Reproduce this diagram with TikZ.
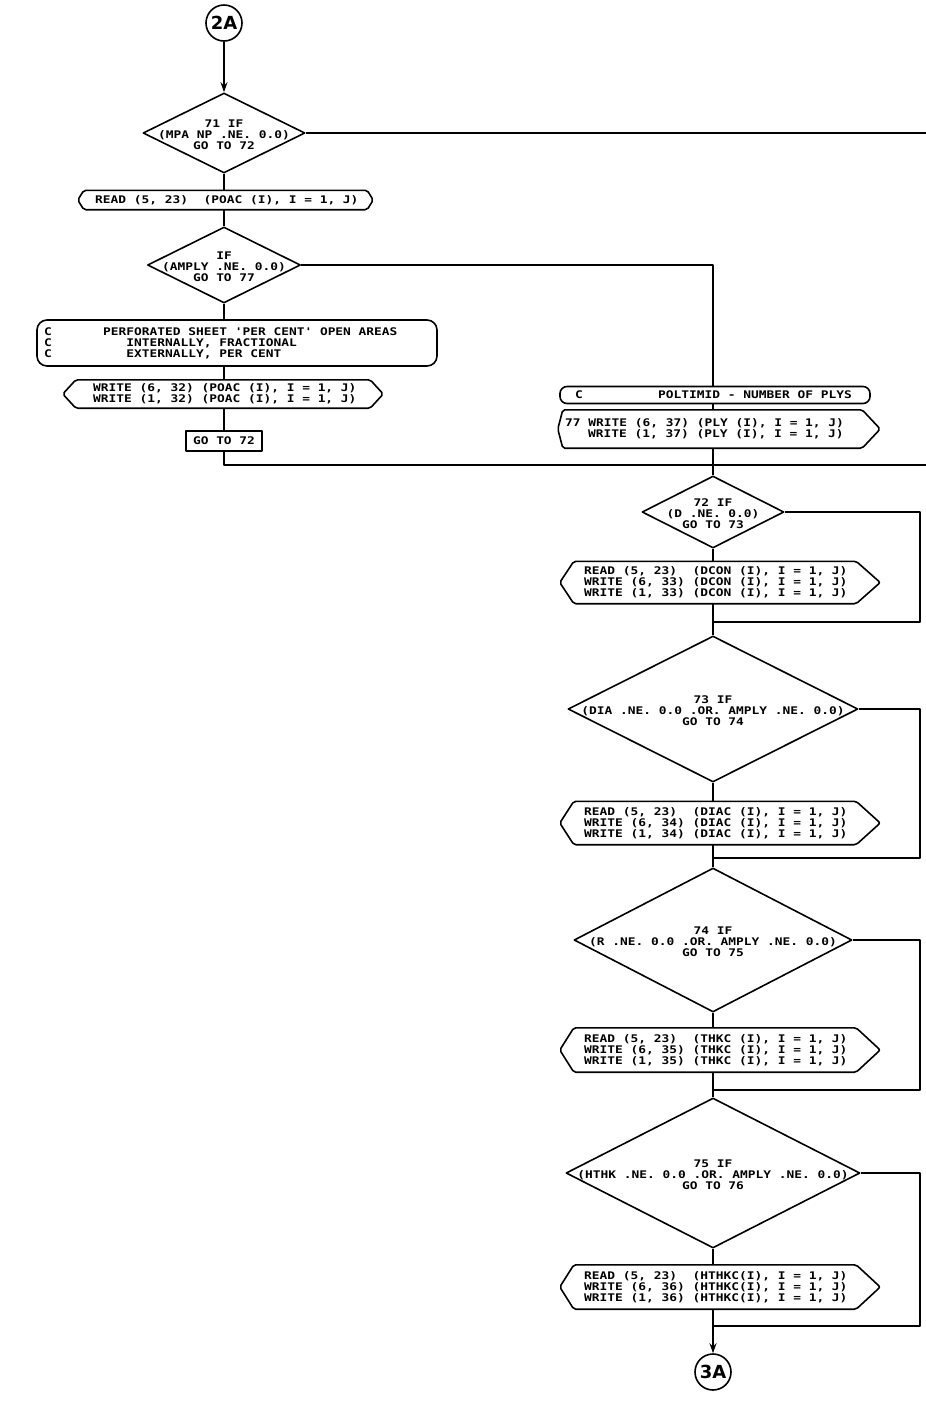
\documentclass[tikz,border=0pt]{standalone}
\usepackage{fontspec}
\newfontfamily\plotfont[FakeStretch=1.225]{DejaVu Sans Mono}
\newfontfamily\circfont{DejaVu Sans}
\usetikzlibrary{shapes.geometric,calc,arrows.meta}
\newcommand\ioshape[3]{%
  \draw[ln,rounded corners=2pt] ($(#1.north west)+(#2,0)$) -- ($(#1.north east)+(-#3,0)$) -- (#1.east)
    -- ($(#1.south east)+(-#3,0)$) -- ($(#1.south west)+(#2,0)$) -- (#1.west) -- cycle;}
\tikzset{
  ln/.style={line width=1.6pt,line join=round},
  dia/.style 2 args={diamond,draw,ln,inner sep=0pt,minimum width=#1,minimum height=#2},
  hold/.style 2 args={rectangle,inner sep=0pt,minimum width=#1,minimum height=#2},
  txt/.style={font=\plotfont\bfseries\fontsize{10.5}{11}\selectfont,align=left,inner sep=0pt},
  ctxt/.style={txt,align=center},
  conn/.style={circle,draw,ln,minimum size=36pt,inner sep=0pt,font=\circfont\bfseries\fontsize{18}{18}\selectfont},
  arr/.style={ln,-{Stealth[length=10pt,width=7pt]}},
}
\begin{document}
\begin{tikzpicture}[x=1pt,y=-1pt]
\useasboundingbox (0,0) rectangle (926,1409);
\fill[white] (0,0) rectangle (926,1409);
% ---------- left column ----------
\node[conn] (c2a) at (224,23) {2A};
\node[dia={162pt}{80pt}] (d71) at (224,133) {};
\node[ctxt] (t71) at ($(d71.center)+(0,2)$) {71 IF\\(MPA NP .NE. 0.0)\\GO TO 72};
\coordinate (off1) at (926,133);

\node[hold={295pt}{19pt}] (r1) at (225.5,200) {};
\ioshape{r1}{6}{6}
\node[txt,anchor=west] (tr1) at (95,200) {READ (5, 23)~~(POAC (I), I = 1, J)};

\node[dia={153pt}{76pt}] (d2) at (224,265) {};
\node[ctxt] (t2) at ($(d2.center)+(0,2)$) {IF\\(AMPLY .NE. 0.0)\\GO TO 77};

\node[hold={400pt}{46pt},draw,ln,rounded corners=10pt] (perf) at (237,343) {};
\node[txt,anchor=west] (tpc) at (44,343) {C\\C\\C};
\node[txt,anchor=west] (tpf) at (103,343) {PERFORATED SHEET 'PER CENT' OPEN AREAS\\~~~INTERNALLY, FRACTIONAL\\~~~EXTERNALLY, PER CENT};

\node[hold={320pt}{28pt}] (w32) at (223,394) {};
\ioshape{w32}{13}{13}
\node[txt,anchor=west] (tw32) at (93,394) {WRITE (6, 32) (POAC (I), I = 1, J)\\WRITE (1, 32) (POAC (I), I = 1, J)};

\node[draw,ln,txt,align=center,minimum width=76pt,minimum height=20pt] (g72) at (224,441) {GO TO 72};
\coordinate (off2) at (926,465);

% ---------- right column ----------
\node[hold={310pt}{17pt},draw,ln,rounded corners=7pt] (cpol) at (715,395) {};
\node[txt,anchor=west] (tcp1) at (575,395) {C};
\node[txt,anchor=west] (tcp2) at (658,395) {POLTIMID - NUMBER OF PLYS};

\node[hold={322pt}{38pt}] (w77) at (719,429) {};
\ioshape{w77}{5}{18}
\node[txt,anchor=west] (tw77a) at (565,423) {77 WRITE (6, 37) (PLY (I), I = 1, J)};
\node[txt,anchor=west] (tw77b) at (588,434.5) {WRITE (1, 37) (PLY (I), I = 1, J)};

\node[dia={142pt}{72pt}] (d72) at (713,512) {};
\node[ctxt] (t72) at ($(d72.center)+(0,2)$) {72 IF\\(D .NE. 0.0)\\GO TO 73};

\node[hold={320pt}{42pt}] (r33) at (720,582.5) {};
\ioshape{r33}{14}{24}
\node[txt,anchor=west] (tr33) at (584,582.5) {READ (5, 23)~~(DCON (I), I = 1, J)\\WRITE (6, 33) (DCON (I), I = 1, J)\\WRITE (1, 33) (DCON (I), I = 1, J)};
\coordinate (j72) at (713,622);
\coordinate (k72) at (920,622);

\node[dia={290pt}{146pt}] (d73) at (713,709) {};
\node[ctxt] (t73) at ($(d73.center)+(0,2)$) {73 IF\\(DIA .NE. 0.0 .OR. AMPLY .NE. 0.0)\\GO TO 74};

\node[hold={320pt}{43pt}] (r34) at (720,823) {};
\ioshape{r34}{14}{24}
\node[txt,anchor=west] (tr34) at (584,823) {READ (5, 23)~~(DIAC (I), I = 1, J)\\WRITE (6, 34) (DIAC (I), I = 1, J)\\WRITE (1, 34) (DIAC (I), I = 1, J)};
\coordinate (j73) at (713,858);
\coordinate (k73) at (920,858);

\node[dia={278pt}{144pt}] (d74) at (713,940) {};
\node[ctxt] (t74) at ($(d74.center)+(0,2)$) {74 IF\\(R .NE. 0.0 .OR. AMPLY .NE. 0.0)\\GO TO 75};

\node[hold={320pt}{44pt}] (r35) at (720,1050) {};
\ioshape{r35}{14}{24}
\node[txt,anchor=west] (tr35) at (584,1050) {READ (5, 23)~~(THKC (I), I = 1, J)\\WRITE (6, 35) (THKC (I), I = 1, J)\\WRITE (1, 35) (THKC (I), I = 1, J)};
\coordinate (j74) at (713,1090);
\coordinate (k74) at (920,1090);

\node[dia={294pt}{150pt}] (d75) at (713,1173) {};
\node[ctxt] (t75) at ($(d75.center)+(0,2)$) {75 IF\\(HTHK .NE. 0.0 .OR. AMPLY .NE. 0.0)\\GO TO 76};

\node[hold={320pt}{44pt}] (r36) at (720,1287) {};
\ioshape{r36}{14}{24}
\node[txt,anchor=west] (tr36) at (584,1287) {READ (5, 23)~~(HTHKC(I), I = 1, J)\\WRITE (6, 36) (HTHKC(I), I = 1, J)\\WRITE (1, 36) (HTHKC(I), I = 1, J)};
\coordinate (j75) at (713,1326);
\coordinate (k75) at (920,1326);

\node[conn] (c3a) at (713,1372) {3A};

% ---------- connectors ----------
\draw[arr] (c2a) -- (d71.north);
\draw[ln] (d71.east) -- (off1);
\draw[ln] (d71.south) -- (r1.north -| d71.south);
\draw[ln] (r1.south -| d71.south) -- (d2.north);
\draw[ln] (d2.south) -- (perf.north -| d2.south);
\draw[ln] (perf.south -| d2.south) -- (w32.north -| d2.south);
\draw[ln] (w32.south -| d2.south) -- (g72.north);
\draw[ln] (g72.south) |- (off2);
\draw[ln] (d2.east) -| (cpol.north -| d72.north);
\draw[ln] (cpol.south -| d72.north) -- (w77.north -| d72.north);
\draw[ln] (w77.south -| d72.north) -- (d72.north);
\draw[ln] (d72.south) -- (r33.north -| d72.south);
\draw[ln] (r33.south -| d72.south) -- (d73.north);
\draw[ln] (d72.east) -| (k72) -- (j72);
\draw[ln] (d73.south) -- (r34.north -| d73.south);
\draw[ln] (r34.south -| d73.south) -- (d74.north);
\draw[ln] (d73.east) -| (k73) -- (j73);
\draw[ln] (d74.south) -- (r35.north -| d74.south);
\draw[ln] (r35.south -| d74.south) -- (d75.north);
\draw[ln] (d74.east) -| (k74) -- (j74);
\draw[ln] (d75.south) -- (r36.north -| d75.south);
\draw[arr] (r36.south -| d75.south) -- (c3a.north);
\draw[ln] (d75.east) -| (k75) -- (j75);
\end{tikzpicture}
\end{document}
